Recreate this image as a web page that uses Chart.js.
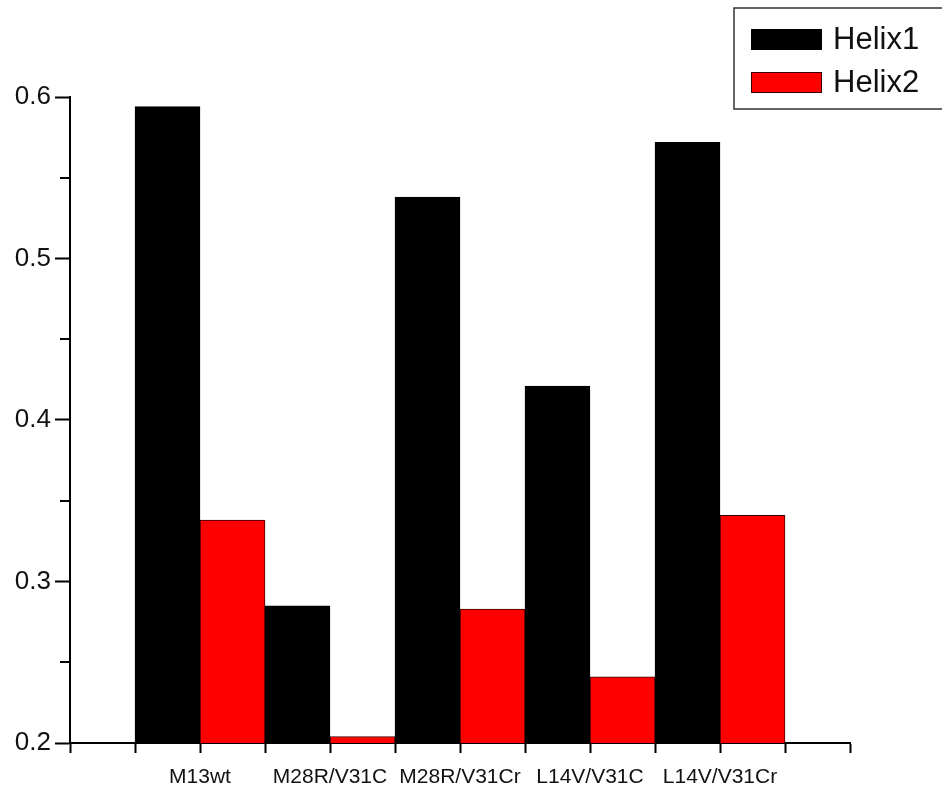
<!DOCTYPE html>
<html>
<head>
<meta charset="utf-8">
<script src="https://cdn.jsdelivr.net/npm/chart.js@4.4.1/dist/chart.umd.min.js"></script>
<style>
  html, body { margin: 0; padding: 0; background: #fff; }
  #wrap { width: 942px; height: 789px; }
</style>
</head>
<body>
<div id="wrap"><canvas id="chart" width="942" height="789"></canvas></div>
<script>
// data
const categories = ['M13wt', 'M28R/V31C', 'M28R/V31Cr', 'L14V/V31C', 'L14V/V31Cr'];
const helix1 = [0.594, 0.285, 0.538, 0.421, 0.572];
const helix2 = [0.338, 0.204, 0.283, 0.241, 0.341];
const yTicks = [0.2, 0.3, 0.4, 0.5, 0.6];
const yMinorTicks = [0.25, 0.35, 0.45, 0.55];

const FONT = '"Liberation Sans", Arial, Helvetica, sans-serif';

// categories sit at x = 1..n on a linear axis, with one empty slot each side
const toPoints = vals => vals.map((v, i) => ({ x: i + 1, y: v }));

// minor ticks on the y axis (shorter than the major ones)
const minorTicks = {
  id: 'minorTicks',
  afterDraw(chart) {
    const y = chart.scales.y;
    const ctx = chart.ctx;
    ctx.save();
    ctx.strokeStyle = '#000';
    ctx.lineWidth = 2;
    yMinorTicks.forEach(v => {
      const py = Math.round(y.getPixelForValue(v));
      ctx.beginPath();
      ctx.moveTo(y.right - 10, py);
      ctx.lineTo(y.right, py);
      ctx.stroke();
    });
    ctx.restore();
  }
};

// boxed legend in the top right corner
const boxLegend = {
  id: 'boxLegend',
  afterDraw(chart) {
    const ctx = chart.ctx;
    ctx.save();
    ctx.strokeStyle = '#333';
    ctx.lineWidth = 1.5;
    ctx.fillStyle = '#fff';
    ctx.fillRect(734, 8, 220, 101);
    ctx.strokeRect(734, 8, 220, 101);
    chart.data.datasets.forEach((ds, i) => {
      const top = 29 + i * 43;
      ctx.fillStyle = ds.backgroundColor;
      ctx.fillRect(751, top, 71, 21);
      ctx.strokeStyle = ds.borderColor;
      ctx.lineWidth = 1;
      ctx.strokeRect(751.5, top + 0.5, 70, 20);
      ctx.fillStyle = '#111';
      ctx.font = '31px ' + FONT;
      ctx.textBaseline = 'middle';
      ctx.textAlign = 'left';
      ctx.fillText(ds.label, 833, top + 11);
    });
    ctx.restore();
  }
};

new Chart(document.getElementById('chart'), {
  type: 'bar',
  data: {
    datasets: [
      {
        label: 'Helix1',
        data: toPoints(helix1),
        backgroundColor: '#000000',
        borderColor: '#000000',
        borderWidth: 1
      },
      {
        label: 'Helix2',
        data: toPoints(helix2),
        backgroundColor: '#ff0000',
        borderColor: '#3a0000',
        borderWidth: 1
      }
    ]
  },
  options: {
    responsive: false,
    animation: false,
    devicePixelRatio: 1,
    layout: { padding: { top: 97, right: 92, left: 0, bottom: 0 } },
    barThickness: 'flex',
    categoryPercentage: 1,
    barPercentage: 1,
    plugins: {
      legend: { display: false },
      tooltip: { enabled: false }
    },
    scales: {
      x: {
        type: 'linear',
        offset: false,
        min: 0,
        max: categories.length + 1,
        border: { color: '#000', width: 2 },
        grid: {
          offset: false,
          drawOnChartArea: false,
          drawTicks: true,
          tickLength: 10,
          tickColor: '#000',
          tickWidth: 2
        },
        ticks: {
          stepSize: 0.5,
          autoSkip: false,
          maxRotation: 0,
          minRotation: 0,
          padding: 12,
          color: '#111',
          font: { family: FONT, size: 21 },
          callback: v => (Number.isInteger(v) && v >= 1 && v <= categories.length) ? categories[v - 1] : ''
        },
        afterFit: s => { s.height = 46; }
      },
      y: {
        min: yTicks[0],
        max: yTicks[yTicks.length - 1],
        border: { color: '#000', width: 2 },
        grid: {
          drawOnChartArea: false,
          drawTicks: true,
          tickLength: 15,
          tickColor: '#000',
          tickWidth: 2
        },
        afterBuildTicks: s => { s.ticks = yTicks.map(v => ({ value: v })); },
        ticks: {
          padding: 4,
          color: '#111',
          font: { family: FONT, size: 26 },
          callback: v => v.toFixed(1)
        },
        afterFit: s => { s.width = 70; }
      }
    }
  },
  plugins: [minorTicks, boxLegend]
});
</script>
</body>
</html>
